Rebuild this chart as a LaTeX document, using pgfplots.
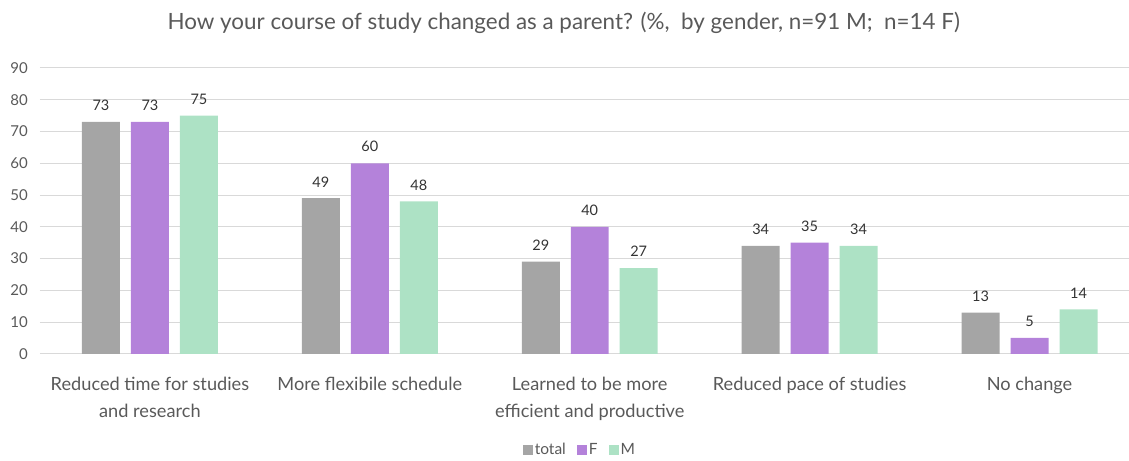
\documentclass[border=0pt]{standalone}
\usepackage{pgfplots}
\pgfplotsset{compat=1.18}
\usepackage{fontspec}
\setmainfont{Lato}
\definecolor{cTotal}{HTML}{A5A5A5}
\definecolor{cF}{HTML}{B482DA}
\definecolor{cM}{HTML}{ADE2C5}
\definecolor{cGrid}{HTML}{D9D9D9}
\definecolor{cText}{HTML}{595959}
\begin{document}
\begin{tikzpicture}
\path (-40pt,-106pt) rectangle (1089pt,354pt);
\begin{axis}[
    at={(0pt,0pt)}, anchor=south west,
    scale only axis,
    width=1089pt, height=286pt,
    ybar=11pt, bar width=38pt,
    xmin=-0.5, xmax=4.45,
    ymin=0, ymax=90,
    ytick={0,10,...,90},
    xtick={0,1,2,3,4},
    xticklabels={{Reduced time for studies\\and research},{More flexibile schedule},{Learned to be more\\efficient and productive},{Reduced pace of studies},{No change}},
    axis line style={draw=none},
    major tick length=0pt,
    ymajorgrids, grid style={cGrid, line width=1pt},
    yticklabel style={font=\fontsize{15}{17}\selectfont, text=cText, inner sep=0pt, xshift=-12pt},
    xticklabel style={font=\fontsize{18.2}{27.5}\selectfont, text=cText, align=center, inner sep=0pt, yshift=-23pt},
    /pgf/number format/assume math mode=true,
    nodes near coords,
    nodes near coords style={font=\fontsize{14.5}{16}\selectfont, text=black!80, inner sep=0pt, yshift=11pt},
    legend style={at={(0.496,-0.336)}, anchor=center, draw=none, fill=none,
        legend columns=3, font=\fontsize{15.5}{17}\selectfont, text=cText,
        /tikz/every even column/.append style={column sep=9pt}},
    legend image code/.code={\fill[#1] (0pt,-5pt) rectangle (10pt,5pt);},
    clip=false,
]
\addplot[fill=cTotal, draw=none] coordinates {(0,73) (1,49) (2,29) (3,34) (4,13)};
\addplot[fill=cF, draw=none] coordinates {(0,73) (1,60) (2,40) (3,35) (4,5)};
\addplot[fill=cM, draw=none] coordinates {(0,75) (1,48) (2,27) (3,34) (4,14)};
\legend{total, F, M}
\end{axis}
\node[font=\fontsize{22.4}{26}\selectfont, text=cText] at (524pt,331pt) {How your course of study changed as a parent? (\%,~ by gender, n=91 M;~ n=14 F)};
\end{tikzpicture}
\end{document}
